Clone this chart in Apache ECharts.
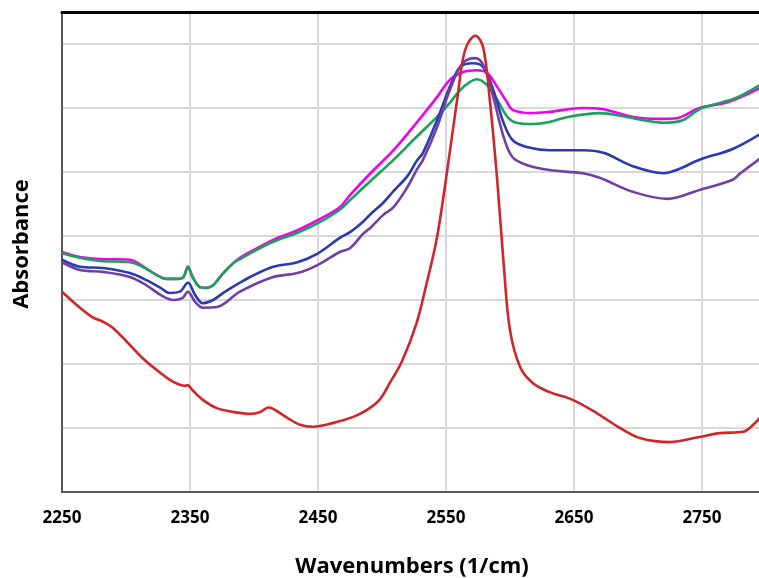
<!DOCTYPE html>
<html>
<head>
<meta charset="utf-8">
<script src="https://cdn.jsdelivr.net/npm/echarts@6/dist/echarts.min.js"></script>
<style>
html,body{margin:0;padding:0;background:#fff;}
#chart{width:759px;height:578px;}
</style>
</head>
<body>
<div id="chart"></div>
<script>
// Wavenumber tick labels
var xTicks = [2250, 2350, 2450, 2550, 2650, 2750];

// Red series
var redX = [2250,2264,2274,2282,2290,2301,2313,2327,2337,2346,2348,2352,2360,2371,2384,2397,2405,2411,2415,2426,2436,2446,2462,2477,2488,2498,2506,2516,2527,2535,2543,2551,2559,2565,2573,2579,2584,2590,2595,2600,2608,2618,2631,2649,2668,2686,2702,2725,2748,2764,2782,2790,2796];
var redY = [0.313,0.288,0.273,0.266,0.256,0.234,0.209,0.186,0.172,0.166,0.167,0.159,0.144,0.131,0.125,0.122,0.125,0.132,0.130,0.116,0.105,0.102,0.108,0.117,0.128,0.144,0.170,0.206,0.264,0.327,0.398,0.503,0.617,0.691,0.713,0.695,0.617,0.488,0.358,0.253,0.195,0.170,0.156,0.144,0.123,0.100,0.084,0.078,0.086,0.092,0.094,0.105,0.118];

// Green series
var greenX = [2250,2264,2280,2303,2313,2324,2332,2341,2345,2348.4,2352,2358,2363,2368,2376,2384,2389,2397,2415,2434,2450,2467,2475,2491,2509,2527,2543,2553,2561,2569,2574,2582,2590,2598,2605,2618,2631,2645,2670,2691,2704,2720,2735,2748,2764,2777,2796];
var greenY = [0.373,0.366,0.361,0.359,0.352,0.339,0.333,0.333,0.336,0.352,0.336,0.320,0.319,0.323,0.342,0.358,0.364,0.373,0.391,0.405,0.420,0.441,0.456,0.486,0.519,0.555,0.586,0.608,0.628,0.641,0.645,0.636,0.613,0.586,0.577,0.575,0.578,0.586,0.592,0.586,0.581,0.577,0.581,0.598,0.608,0.616,0.637];

// Magenta series
var magentaX = [2250,2264,2280,2303,2313,2324,2332,2341,2345,2348.4,2352,2358,2363,2368,2376,2384,2389,2397,2415,2434,2450,2467,2475,2491,2509,2527,2543,2553,2563,2574,2582,2590,2598,2602,2616,2631,2657,2673,2696,2717,2730,2748,2770,2796];
var magentaY = [0.375,0.367,0.364,0.363,0.353,0.339,0.333,0.333,0.336,0.352,0.336,0.320,0.319,0.323,0.342,0.358,0.366,0.375,0.394,0.409,0.425,0.445,0.464,0.498,0.534,0.577,0.617,0.644,0.656,0.659,0.655,0.633,0.608,0.597,0.592,0.594,0.600,0.598,0.586,0.583,0.584,0.600,0.609,0.632];

// Blue series
var blueX = [2250,2264,2282,2303,2316,2327,2334,2342,2348.4,2354,2360,2368,2376,2389,2397,2415,2434,2450,2467,2475,2485,2491,2501,2509,2520,2527,2532,2543,2553,2561,2571,2579,2587,2595,2602,2613,2631,2657,2673,2696,2720,2730,2748,2774,2796];
var blueY = [0.363,0.352,0.350,0.342,0.331,0.319,0.311,0.313,0.327,0.308,0.295,0.300,0.311,0.327,0.336,0.352,0.359,0.373,0.397,0.406,0.422,0.434,0.452,0.470,0.494,0.517,0.530,0.581,0.633,0.664,0.670,0.664,0.628,0.577,0.550,0.539,0.534,0.534,0.530,0.509,0.498,0.503,0.519,0.536,0.560];

// Purple series
var purpleX = [2250,2264,2282,2303,2316,2327,2337,2344,2348.4,2354,2360,2371,2389,2415,2434,2450,2467,2475,2485,2491,2501,2509,2520,2527,2532,2543,2553,2563,2573,2580,2587,2595,2602,2613,2631,2657,2670,2696,2723,2748,2774,2780,2796];
var purpleY = [0.359,0.347,0.344,0.336,0.323,0.308,0.300,0.303,0.313,0.297,0.288,0.289,0.313,0.336,0.342,0.355,0.375,0.381,0.403,0.413,0.433,0.445,0.477,0.503,0.519,0.570,0.628,0.670,0.678,0.664,0.617,0.555,0.523,0.511,0.503,0.498,0.491,0.469,0.458,0.472,0.488,0.498,0.522];

function pairs(xs, ys){ return xs.map(function(x,i){ return [x, ys[i]]; }); }

var chart = echarts.init(document.getElementById('chart'), null, {renderer:'canvas'});
var font = '"Open Sans", "Liberation Sans", sans-serif';
function line(name, xs, ys, color){
  return {
    name: name, type: 'line', xAxisIndex: 0, yAxisIndex: 0,
    data: pairs(xs, ys), showSymbol: false, smooth: 0.35,
    lineStyle: {color: color, width: 2.6}, itemStyle: {color: color},
    animation: false, z: 3
  };
}
chart.setOption({
  backgroundColor: '#ffffff',
  animation: false,
  grid: {left: 62, top: 12, right: -3, bottom: 86, containLabel: false, outerBoundsMode: 'none'},
  xAxis: [{
    type: 'value', min: 2250, max: 2796.9, interval: 100, position: 'bottom',
    name: 'Wavenumbers (1/cm)', nameLocation: 'middle', nameGap: 64,
    nameTextStyle: {fontFamily: font, fontWeight: 'bold', fontSize: 22, color: '#000'},
    axisLine: {show: true, onZero: false, lineStyle: {color: '#595959', width: 2}},
    axisTick: {show: false},
    axisLabel: {fontFamily: font, fontWeight: 'bold', fontSize: 17, color: '#000', margin: 18, showMaxLabel: false,
      formatter: function(v){ return xTicks.indexOf(v) >= 0 ? String(v) : ''; }},
    splitLine: {show: true, lineStyle: {color: '#d9d9d9', width: 2}}
  }, {
    type: 'value', min: 2250, max: 2796.9, position: 'top',
    axisLine: {show: true, onZero: false, lineStyle: {color: '#000', width: 3}},
    axisTick: {show: false}, axisLabel: {show: false}, splitLine: {show: false}
  }],
  yAxis: [{
    type: 'value', min: 0, max: 0.75, interval: 0.1,
    name: 'Absorbance', nameLocation: 'middle', nameGap: 29,
    nameTextStyle: {fontFamily: font, fontWeight: 'bold', fontSize: 22, color: '#000', padding: [0, 0, 0, 16]},
    axisLine: {show: true, onZero: false, lineStyle: {color: '#595959', width: 2}},
    axisTick: {show: false}, axisLabel: {show: false},
    splitLine: {show: true, lineStyle: {color: '#d9d9d9', width: 2}}
  }],
  series: [
    line('Magenta', magentaX, magentaY, '#f000f0'),
    line('Green', greenX, greenY, '#17a35a'),
    line('Blue', blueX, blueY, '#2b3ab3'),
    line('Purple', purpleX, purpleY, '#7040a6'),
    line('Red', redX, redY, '#d2252a')
  ]
});
</script>
</body>
</html>
